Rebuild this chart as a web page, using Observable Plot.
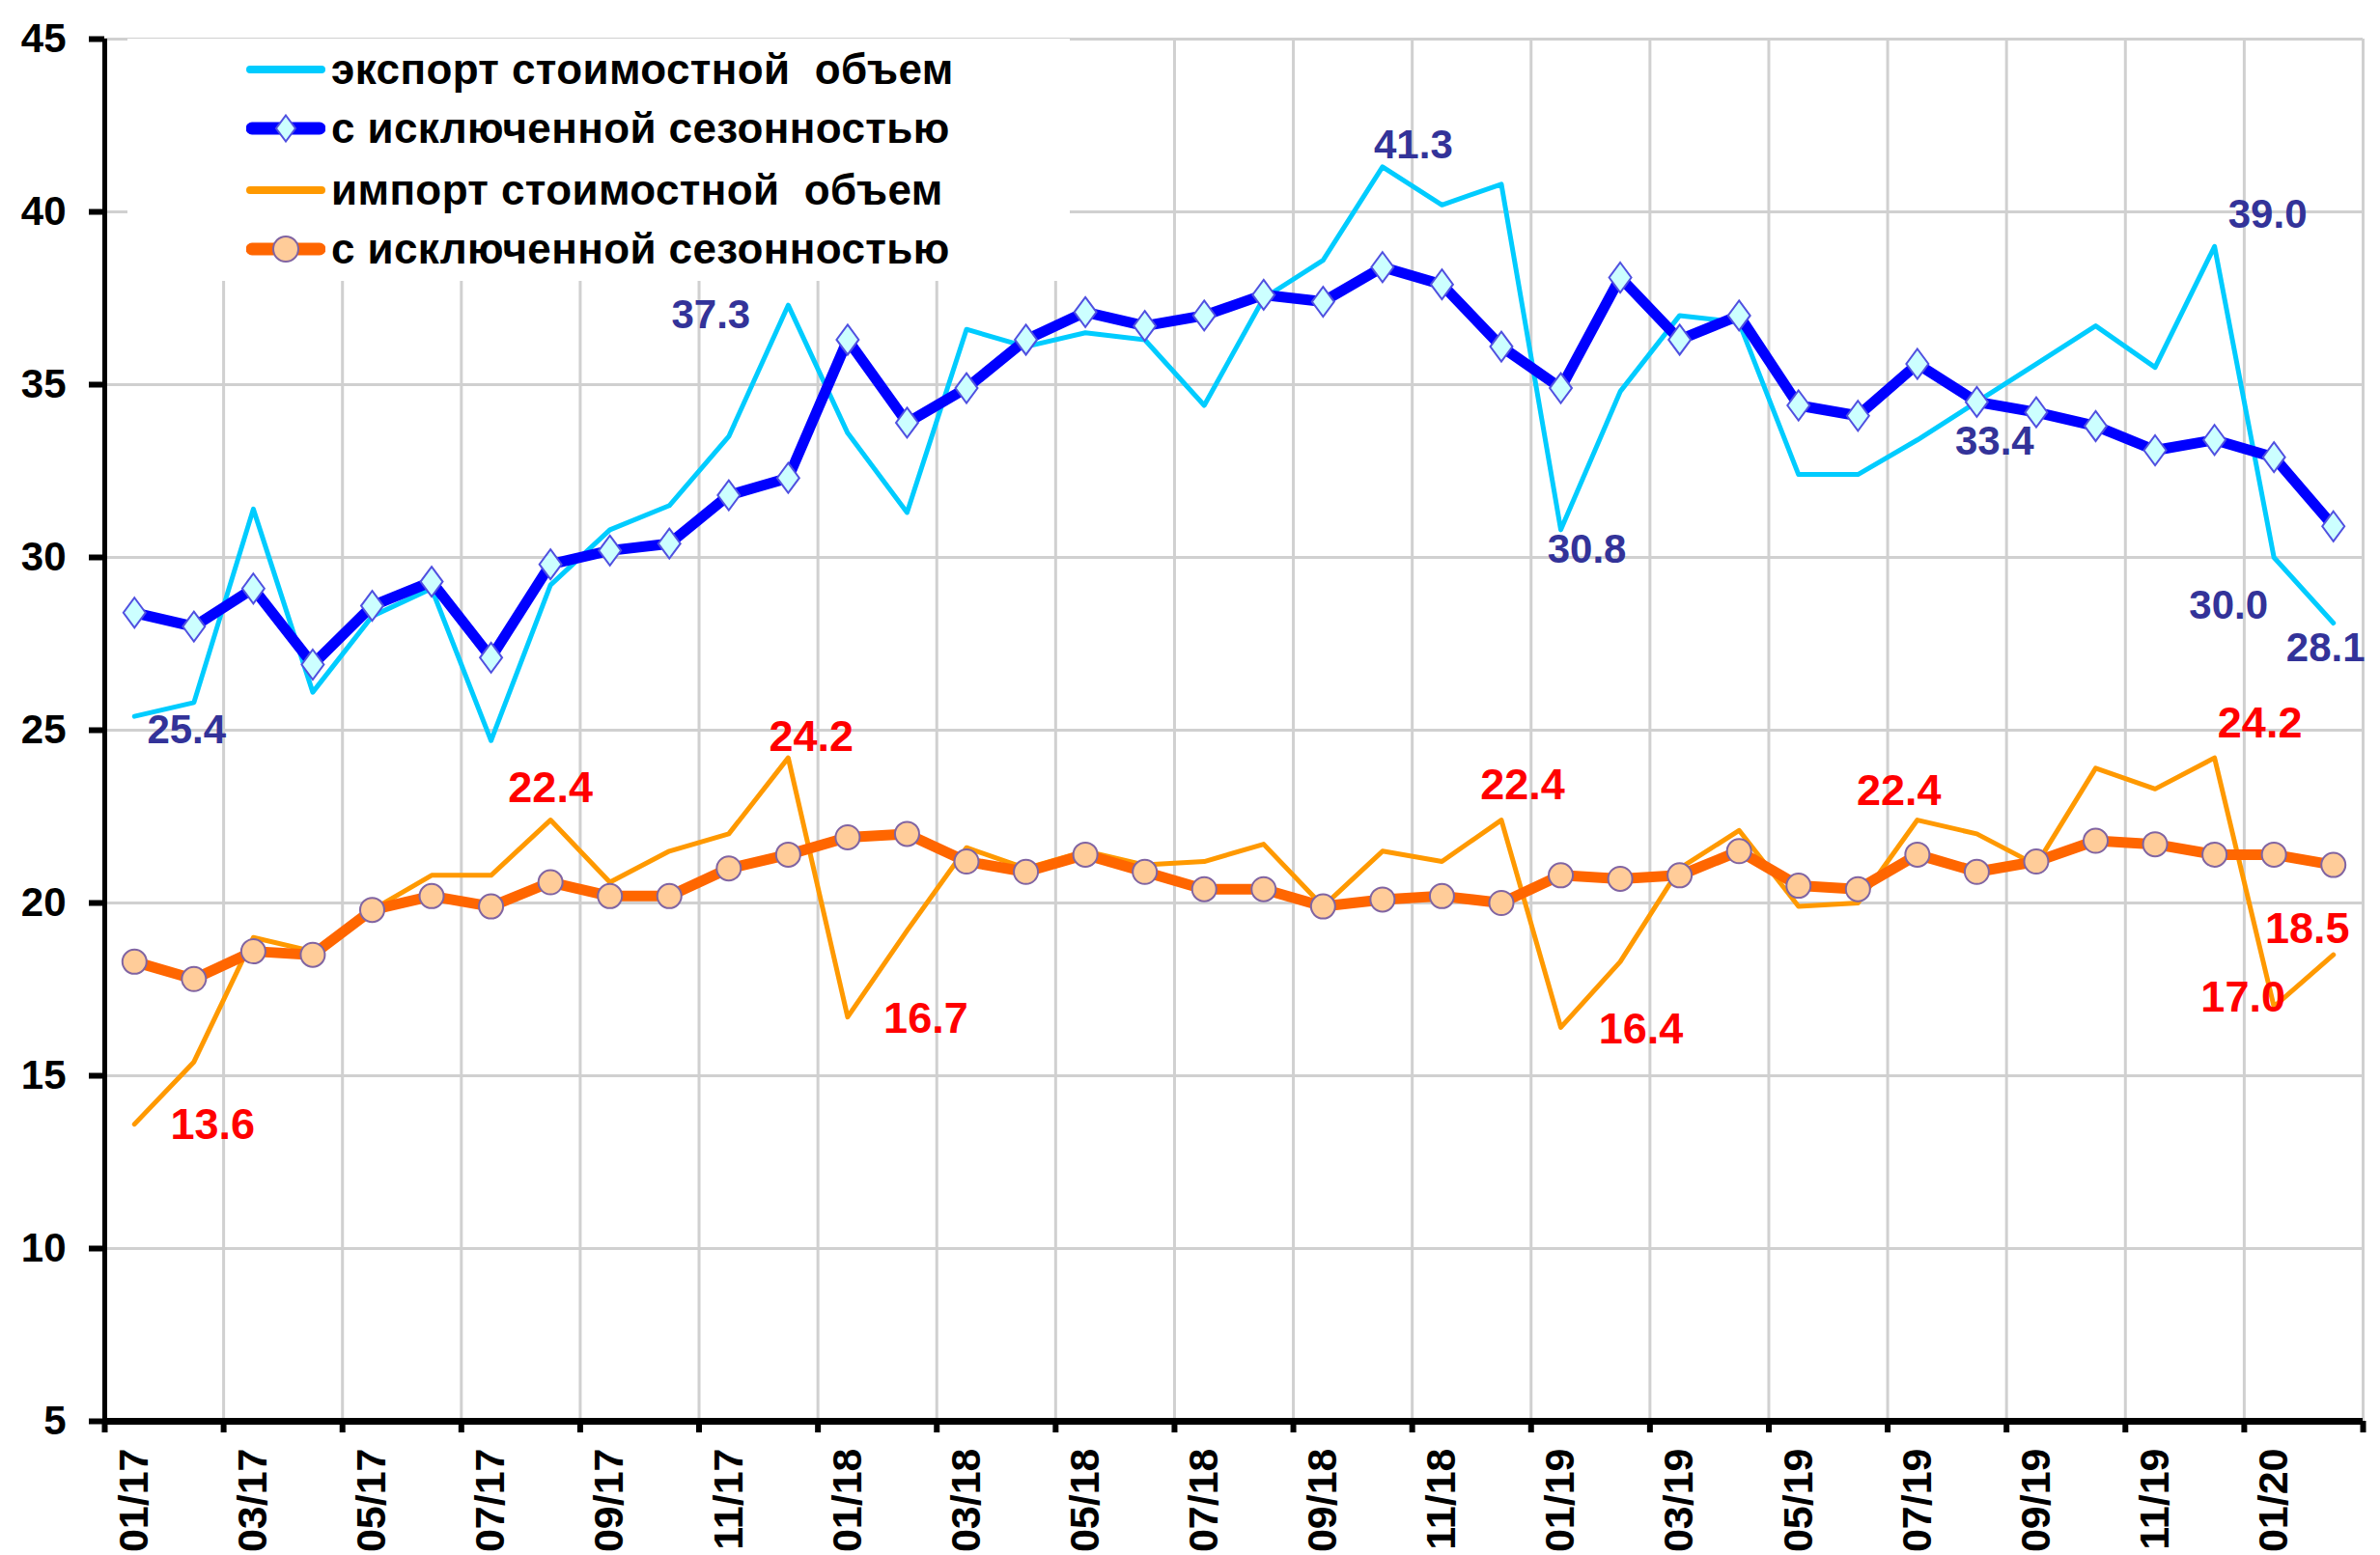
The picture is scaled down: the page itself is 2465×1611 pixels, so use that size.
<!DOCTYPE html>
<html>
<head>
<meta charset="utf-8">
<script src="https://cdn.jsdelivr.net/npm/d3@7"></script>
<script src="https://cdn.jsdelivr.net/npm/@observablehq/plot@0.6"></script>
<style>
  html, body { margin: 0; padding: 0; background: #fff; }
  #wrap { position: relative; width: 2465px; height: 1611px; }
  #legend { position: absolute; left: 132px; top: 40px; width: 976px; height: 251px; background: #fff;
            font-family: "Liberation Sans", Arial, sans-serif; font-weight: bold; font-size: 44px; letter-spacing: 0.4px; color: #000; }
  .row { position: absolute; left: 0; height: 60px; display: flex; align-items: center; }
  .row svg { margin-left: 123px; flex: none; }
  .row span { white-space: pre; margin-left: 6px; }
</style>
</head>
<body>
<div id="wrap"><div id="legend"></div></div>
<script>
// ---------- data ----------
const months = ["01/17","02/17","03/17","04/17","05/17","06/17","07/17","08/17","09/17","10/17","11/17","12/17",
                "01/18","02/18","03/18","04/18","05/18","06/18","07/18","08/18","09/18","10/18","11/18","12/18",
                "01/19","02/19","03/19","04/19","05/19","06/19","07/19","08/19","09/19","10/19","11/19","12/19",
                "01/20","02/20"];
const exportRaw = [25.4, 25.8, 31.4, 26.1, 28.3, 29.1, 24.7, 29.2, 30.8, 31.5, 33.5, 37.3,
                   33.6, 31.3, 36.6, 36.1, 36.5, 36.3, 34.4, 37.5, 38.6, 41.3, 40.2, 40.8,
                   30.8, 34.8, 37.0, 36.8, 32.4, 32.4, 33.4, 34.5, 35.6, 36.7, 35.5, 39.0,
                   30.0, 28.1];
const exportSA  = [28.4, 28.0, 29.1, 26.9, 28.6, 29.3, 27.1, 29.8, 30.2, 30.4, 31.8, 32.3,
                   36.3, 33.9, 34.9, 36.3, 37.1, 36.7, 37.0, 37.6, 37.4, 38.4, 37.9, 36.1,
                   34.9, 38.1, 36.3, 37.0, 34.4, 34.1, 35.6, 34.5, 34.2, 33.8, 33.1, 33.4,
                   32.9, 30.9];
const importRaw = [13.6, 15.4, 19.0, 18.6, 19.8, 20.8, 20.8, 22.4, 20.6, 21.5, 22.0, 24.2,
                   16.7, 19.2, 21.6, 21.0, 21.5, 21.1, 21.2, 21.7, 19.9, 21.5, 21.2, 22.4,
                   16.4, 18.3, 21.0, 22.1, 19.9, 20.0, 22.4, 22.0, 21.1, 23.9, 23.3, 24.2,
                   17.0, 18.5];
const importSA  = [18.3, 17.8, 18.6, 18.5, 19.8, 20.2, 19.9, 20.6, 20.2, 20.2, 21.0, 21.4,
                   21.9, 22.0, 21.2, 20.9, 21.4, 20.9, 20.4, 20.4, 19.9, 20.1, 20.2, 20.0,
                   20.8, 20.7, 20.8, 21.5, 20.5, 20.4, 21.4, 20.9, 21.2, 21.8, 21.7, 21.4,
                   21.4, 21.1];
const seriesNames = ["экспорт стоимостной  объем", "с исключенной сезонностью",
                     "импорт стоимостной  объем", "с исключенной сезонностью"];
const yTicks = [5, 10, 15, 20, 25, 30, 35, 40, 45];
const exportLabelIdx = [0, 11, 21, 24, 30, 35, 36, 37];
const importLabelIdx = [0, 7, 11, 12, 23, 24, 30, 35, 36, 37];

// ---------- styling / placement ----------
const FONT = '"Liberation Sans", Arial, sans-serif';
const C = {expRaw: "#00CCFF", expSA: "#0000FF", dFill: "#CCFFFF", dStroke: "#5050E0",
           impRaw: "#FF9900", impSA: "#FF6600", cFill: "#FFCC99", cStroke: "#8064A2",
           expLab: "#333399", impLab: "#FF0000", grid: "#d0d0d0"};
const exportLabelOffset = {0:[54,14], 11:[-80,10], 21:[32,-22], 24:[27,21], 30:[80,2], 35:[55,-33], 36:[-47,50], 37:[-8,26]};
const importLabelOffset = {0:[81,1], 7:[0,-33], 11:[24,-22], 12:[81,2], 23:[22,-36], 24:[83,2], 30:[-19,-30], 35:[47,-36], 36:[-32,-9], 37:[-27,-27]};

const idx = d3.range(months.length);
const labelTicks = idx.filter(i => i % 2 === 0);
const boundaries = d3.range(-0.5, months.length, 2);
const gridXs = boundaries.filter(b => b > 0);

// tall diamond symbol
const diamond = {draw(ctx, size) {
  const r = Math.sqrt(size / Math.PI), h = r, w = r * 0.74;
  ctx.moveTo(0, -h); ctx.lineTo(w, 0); ctx.lineTo(0, h); ctx.lineTo(-w, 0); ctx.closePath();
}};

const exportLabels = exportLabelIdx.map(i => Plot.text([i], {
  x: d => d, y: d => exportRaw[d], text: d => exportRaw[d].toFixed(1),
  dx: exportLabelOffset[i][0], dy: exportLabelOffset[i][1],
  fill: C.expLab, fontSize: 42, fontWeight: "bold", fontFamily: FONT
}));
const importLabels = importLabelIdx.map(i => Plot.text([i], {
  x: d => d, y: d => importRaw[d], text: d => importRaw[d].toFixed(1),
  dx: importLabelOffset[i][0], dy: importLabelOffset[i][1],
  fill: C.impLab, fontSize: 45, fontWeight: "bold", fontFamily: FONT
}));

const chart = Plot.plot({
  width: 2465, height: 1611,
  marginLeft: 108, marginRight: 18, marginTop: 40, marginBottom: 139,
  x: {type: "linear", domain: [-0.5, months.length - 0.5]},
  y: {type: "linear", domain: [5, 45]},
  style: {fontFamily: FONT, background: "white", overflow: "visible"},
  marks: [
    Plot.gridY(yTicks.filter(v => v > 5), {stroke: C.grid, strokeOpacity: 1, strokeWidth: 3}),
    Plot.gridX(gridXs, {stroke: C.grid, strokeOpacity: 1, strokeWidth: 3}),
    Plot.line(idx, {x: i => i, y: i => exportRaw[i], stroke: C.expRaw, strokeWidth: 5, strokeLinejoin: "round"}),
    Plot.line(idx, {x: i => i, y: i => exportSA[i], stroke: C.expSA, strokeWidth: 11, strokeLinejoin: "round"}),
    Plot.dot(idx, {x: i => i, y: i => exportSA[i], symbol: diamond, r: 15.5, fill: C.dFill, stroke: C.dStroke, strokeWidth: 2}),
    Plot.line(idx, {x: i => i, y: i => importRaw[i], stroke: C.impRaw, strokeWidth: 5, strokeLinejoin: "round"}),
    Plot.line(idx, {x: i => i, y: i => importSA[i], stroke: C.impSA, strokeWidth: 11, strokeLinejoin: "round"}),
    Plot.dot(idx, {x: i => i, y: i => importSA[i], r: 12.5, fill: C.cFill, stroke: C.cStroke, strokeWidth: 2}),
    ...exportLabels,
    ...importLabels,
    Plot.axisY(yTicks, {tickSize: 16, tickPadding: 24, strokeWidth: 6, fontSize: 42, fontWeight: "bold", label: null}),
    Plot.axisX(labelTicks, {tickSize: 0, tickPadding: 28, tickRotate: -90, tickFormat: i => months[i],
                            fontSize: 43, fontWeight: "bold", label: null}),
    Plot.axisX(boundaries, {tickSize: 12, strokeWidth: 6, tickFormat: () => "", label: null}),
    Plot.ruleX([-0.5], {strokeWidth: 5, stroke: "black"}),
    Plot.ruleY([5], {strokeWidth: 7, stroke: "black"})
  ]
});
const wrap = document.getElementById("wrap");
wrap.insertBefore(chart, wrap.firstChild);

// ---------- legend (overlaid inside plot area, white box) ----------
const legend = document.getElementById("legend");
const rowCenters = [32, 93, 157, 218];
const symbols = [
  `<line x1="4" x2="78" y1="15" y2="15" stroke="${C.expRaw}" stroke-width="8" stroke-linecap="round"/>`,
  `<line x1="6" x2="76" y1="15" y2="15" stroke="${C.expSA}" stroke-width="13" stroke-linecap="round"/>
   <path d="M41,1.5 L51,15 L41,28.5 L31,15 Z" fill="${C.dFill}" stroke="${C.dStroke}" stroke-width="2"/>`,
  `<line x1="4" x2="78" y1="15" y2="15" stroke="${C.impRaw}" stroke-width="8" stroke-linecap="round"/>`,
  `<line x1="6" x2="76" y1="15" y2="15" stroke="${C.impSA}" stroke-width="13" stroke-linecap="round"/>
   <circle cx="41" cy="15" r="13" fill="${C.cFill}" stroke="${C.cStroke}" stroke-width="2"/>`
];
seriesNames.forEach((name, k) => {
  const row = document.createElement("div");
  row.className = "row";
  row.style.top = (rowCenters[k] - 30) + "px";
  row.innerHTML = `<svg width="82" height="30" viewBox="0 0 82 30">${symbols[k]}</svg><span></span>`;
  row.querySelector("span").textContent = name;
  legend.appendChild(row);
});
</script>
</body>
</html>
